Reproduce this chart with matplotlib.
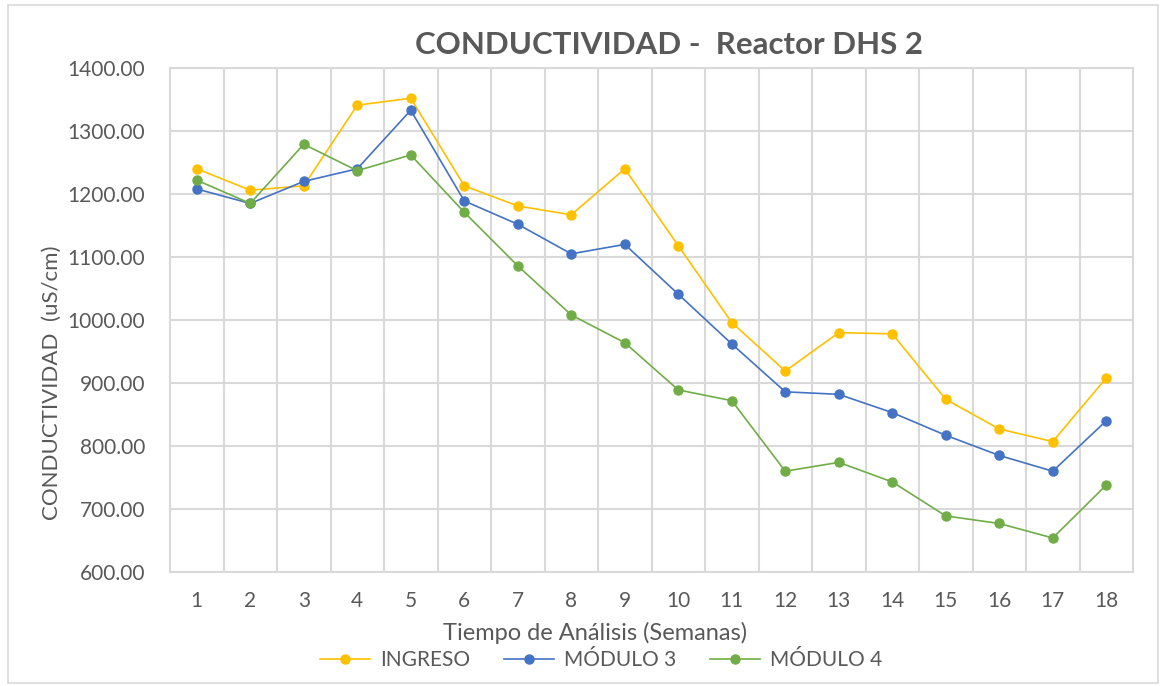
import matplotlib.pyplot as plt
from matplotlib.patches import Rectangle
import numpy as np

plt.rcParams['font.family'] = ['Lato', 'DejaVu Sans']

semanas = list(range(1, 19))
ingreso = [1240, 1206, 1213, 1341, 1352, 1213, 1181, 1167, 1240, 1118,
           996, 919, 980, 978, 874, 827, 807, 908]
modulo3 = [1208, 1185, 1220, 1240, 1333, 1189, 1152, 1105, 1120, 1041,
           962, 886, 882, 853, 817, 785, 760, 840]
modulo4 = [1222, 1185, 1279, 1237, 1262, 1171, 1086, 1008, 964, 889,
           872, 760, 774, 743, 689, 677, 654, 738]

gris = '#595959'
W, H = 1165, 686

fig = plt.figure(figsize=(11.65, 6.86), dpi=100)
ax = fig.add_axes([170/W, 1-572/H, (1133-170)/W, (572-68)/H])

ax.plot(semanas, ingreso, color='#FFC000', marker='o', ms=6.5, lw=1.2, label='INGRESO')
ax.plot(semanas, modulo3, color='#4472C4', marker='o', ms=6.5, lw=1.2, label='MÓDULO 3')
ax.plot(semanas, modulo4, color='#70AD47', marker='o', ms=6.5, lw=1.2, label='MÓDULO 4')

ax.set_xlim(0.5, 18.5)
ax.set_ylim(600, 1400)
ax.set_xticks(semanas)
ax.set_xticks(np.arange(1.5, 18.5, 1), minor=True)
ax.set_yticks(np.arange(600, 1401, 100))
ax.set_yticklabels([f'{v:.2f}' for v in np.arange(600, 1401, 100)])
ax.grid(which='minor', axis='x', color='#d9d9d9', lw=1.5)
ax.grid(which='major', axis='y', color='#d9d9d9', lw=1.5)
ax.set_axisbelow(True)
ax.tick_params(which='both', length=0, colors=gris, labelsize=15)
ax.tick_params(axis='x', pad=14)
ax.tick_params(axis='y', pad=18)
for s in ax.spines.values():
    s.set_color('#d9d9d9')
    s.set_linewidth(1.5)

fig.text(669/W, 1-45/H, 'CONDUCTIVIDAD -  Reactor DHS 2', fontsize=22.5, fontweight='bold',
         color=gris, ha='center', va='center')
fig.text(595/W, 1-633/H, 'Tiempo de Análisis (Semanas)', fontsize=17, color=gris,
         ha='center', va='center')
fig.text(52/W, 1-383/H, 'CONDUCTIVIDAD  (uS/cm)', fontsize=16, color=gris,
         ha='center', va='center', rotation=90)

leg = fig.legend(loc='center', bbox_to_anchor=(601/W, 1-660/H), ncol=3,
                 frameon=False, fontsize=15, handlelength=2.4, columnspacing=1.6,
                 handletextpad=0.5)
for t in leg.get_texts():
    t.set_color(gris)

fig.patches.append(Rectangle((8/W, 3/H), 1150/W, 678/H, transform=fig.transFigure,
                             fill=False, edgecolor='#d9d9d9', lw=1.2))

fig.savefig('out.png', dpi=100)
